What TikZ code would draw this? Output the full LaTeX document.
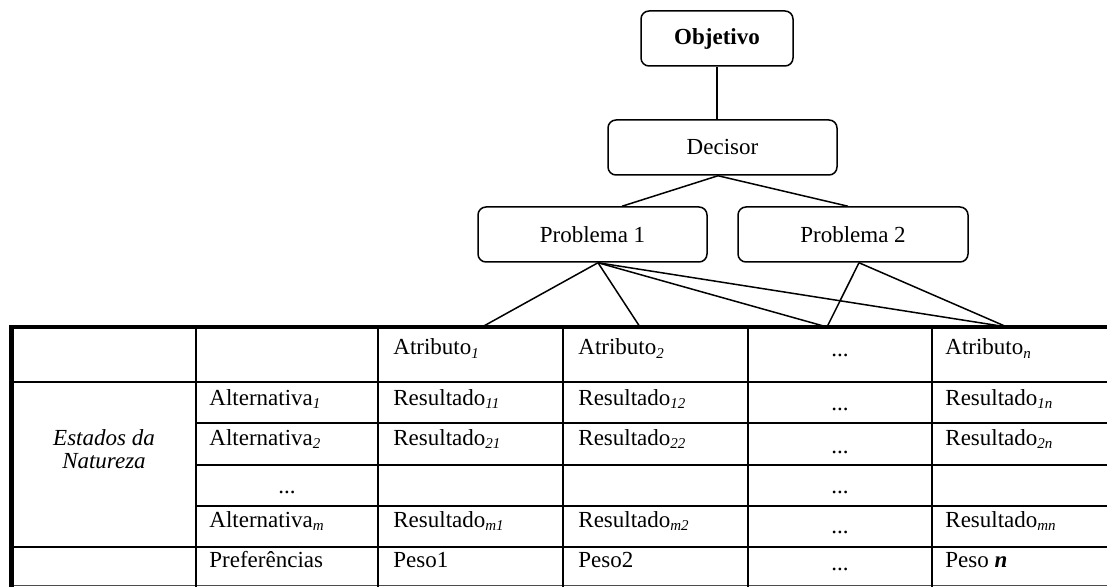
\documentclass[tikz,border=0pt]{standalone}
\usepackage{fontspec}
\setmainfont{Liberation Serif}
\usetikzlibrary{calc}
% small italic index set below the baseline
\newcommand{\lowsub}[1]{\raisebox{-1.7pt}{\fontsize{7.5}{8}\selectfont\itshape #1}}

\begin{document}
\begin{tikzpicture}[x=0.5pt,y=-0.5pt,
  font=\fontsize{11.5}{11.5}\selectfont,
  box/.style={draw, line width=0.75pt, rounded corners=4pt, inner sep=0pt,
              minimum height=27.5pt, align=center},
  link/.style={line width=0.75pt},
  outer/.style={line width=2.2pt},
  grid/.style={line width=1pt},
  cell/.style={anchor=base west, inner sep=0pt},
  dots/.style={anchor=base, inner sep=0pt}]
\useasboundingbox (0,0) rectangle (1107,587);

% hierarchy boxes
\node[box, minimum width=76pt]  (obj) at (717,38.5)   {\textbf{Objetivo}};
\node[box, minimum width=114.5pt] (dec) at (722.5,147.5) {Decisor};
\node[box, minimum width=114.5pt] (p1)  at (592.5,234.5) {Problema 1};
\node[box, minimum width=115pt]   (p2)  at (853,234.5)   {Problema 2};

% attachment points on the top edge of the table
\coordinate (a1) at (482,327);
\coordinate (a2) at (640,327);
\coordinate (a3) at (827,327);
\coordinate (an) at (1007,327);

% tree connectors
\draw[link] (obj.south) -- (obj.south |- dec.north);
\coordinate (dbot) at ($(dec.south)+(-4.5,0)$);
\draw[link] (dbot) -- ($(p1.north)+(29.5,0)$);
\draw[link] (dbot) -- ($(p2.north)+(-5,0)$);
\coordinate (p1bot) at ($(p1.south)+(5.5,0)$);
\coordinate (p2bot) at ($(p2.south)+(6,0)$);
\draw[link] (p1bot) -- (a1);
\draw[link] (p1bot) -- (a2);
\draw[link] (p1bot) -- (a3);
\draw[link] (p1bot) -- (an);
\draw[link] (p2bot) -- (a3);
\draw[link] (p2bot) -- (an);

% table rules
\draw[grid] (11.5,382) -- (1107,382);
\foreach \yy in {423,465,506} \draw[grid] (196,\yy) -- (1107,\yy);
\draw[grid] (11.5,547) -- (1107,547);
\draw[grid, line width=0.6pt, black!70] (11.5,585.5) -- (1107,585.5);
\foreach \xx in {196,378,563,748,932} \draw[grid] (\xx,327) -- (\xx,587);
\draw[outer] (11.5,587) -- (11.5,327) -- (1107,327);

% header row
\node[cell] (h1) at (393,355) {Atributo\lowsub{1}};
\node[cell] (h2) at (578,355) {Atributo\lowsub{2}};
\node[dots] (h3) at (840,357) {...};
\node[cell] (hn) at (945,355) {Atributo\lowsub{n}};

% side label
\node[cell, anchor=base] (est1) at (104,445) {\itshape Estados da};
\node[cell, anchor=base] (est2) at (104,468) {\itshape Natureza};

% alternatives
\node[cell] (r1) at (209,405) {Alternativa\lowsub{1}};
\node[cell] (r11) at (393,405) {Resultado\lowsub{11}};
\node[cell] (r12) at (578,405) {Resultado\lowsub{12}};
\node[dots] (r13) at (840,410) {...};
\node[cell] (r1n) at (945,405) {Resultado\lowsub{1n}};

\node[cell] (r2) at (209,445) {Alternativa\lowsub{2}};
\node[cell] (r21) at (393,445) {Resultado\lowsub{21}};
\node[cell] (r22) at (578,445) {Resultado\lowsub{22}};
\node[dots] (r23) at (840,453) {...};
\node[cell] (r2n) at (945,445) {Resultado\lowsub{2n}};

\node[dots] (r3) at (287,493) {...};
\node[dots] (r33) at (840,493) {...};

\node[cell] (rm) at (209,527) {Alternativa\lowsub{m}};
\node[cell] (rm1) at (393,527) {Resultado\lowsub{m1}};
\node[cell] (rm2) at (578,527) {Resultado\lowsub{m2}};
\node[dots] (rm3) at (840,533) {...};
\node[cell] (rmn) at (945,527) {Resultado\lowsub{mn}};

% preferences
\node[cell] (pr) at (209,567) {Preferências};
\node[cell] (w1) at (393,567) {Peso1};
\node[cell] (w2) at (578,567) {Peso2};
\node[dots] (w3) at (840,570) {...};
\node[cell] (wn) at (945,567) {Peso \textbf{\textit{n}}};
\end{tikzpicture}
\end{document}
